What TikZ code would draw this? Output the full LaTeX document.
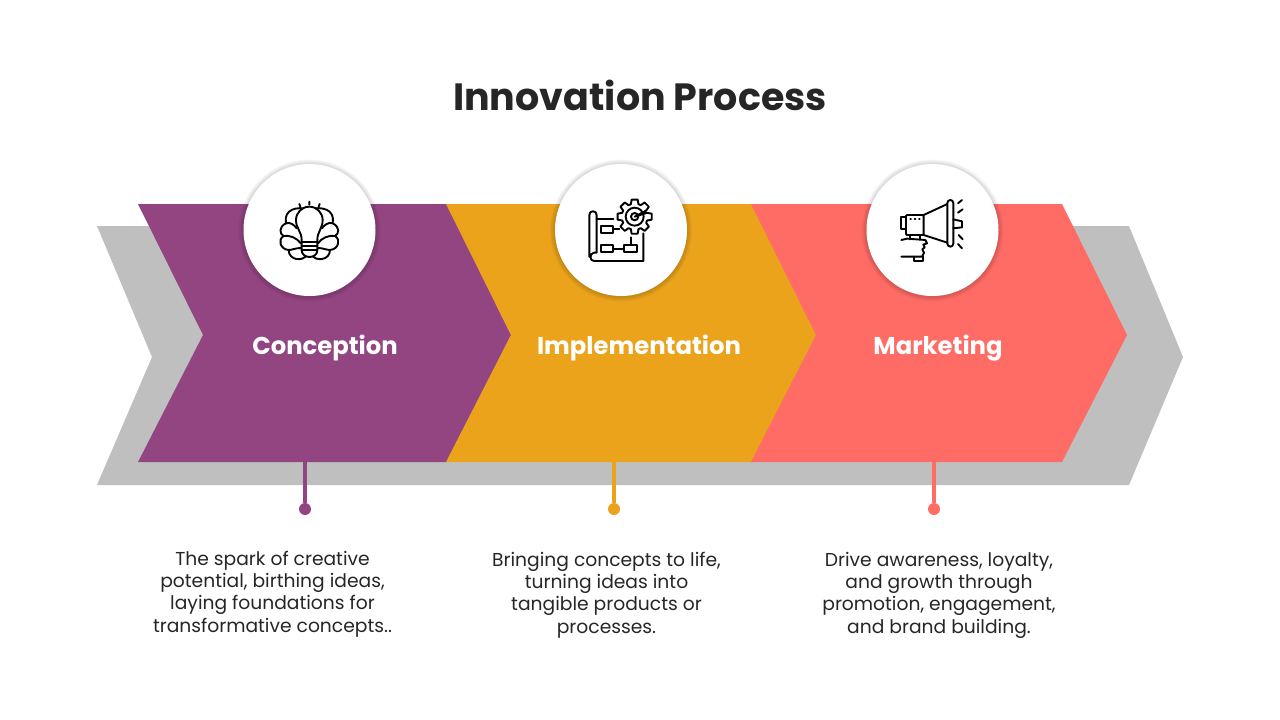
\documentclass[tikz,border=0pt]{standalone}
\usepackage{fontspec}
\setmainfont{Poppins}
\definecolor{conceptioncol}{HTML}{934582}
\definecolor{implementcol}{HTML}{EAA31B}
\definecolor{marketingcol}{HTML}{FF6C66}
\definecolor{bandcol}{HTML}{BFBFBF}
\definecolor{inkcol}{HTML}{262626}

\begin{document}
\begin{tikzpicture}[x=1pt,y=-1pt]
    \tikzstyle{heading}=[text=inkcol,font=\fontsize{38}{42}\selectfont\bfseries]
    \tikzstyle{steplabel}=[text=white,font=\fontsize{24.3}{28}\selectfont\bfseries]
    \tikzstyle{blurb}=[text=inkcol,align=center,font=\fontsize{18.7}{22.3}\selectfont]
    \tikzstyle{iconbase}=[circle,fill=white,minimum size=132pt,inner sep=0pt]
    \tikzstyle{halo}=[black,opacity=.03]
    \tikzstyle{stem}=[line width=4pt]
    \tikzstyle{dot}=[circle,minimum size=12pt,inner sep=0pt]
    \tikzstyle{glyph}=[line width=1.9pt,line join=round,line cap=round,black]
    \path[fill=white] (0,0) rectangle (1280,720);

    \fill[bandcol] (97,226) -- (1129,226) -- (1183,357) -- (1129,485) -- (97,485) -- (152,357) -- cycle;
    \fill[conceptioncol] (138,204) -- (447,204) -- (511,335) -- (447,462) -- (138,462) -- (203,335) -- cycle;
    \fill[implementcol] (446,204) -- (752,204) -- (816,335) -- (752,462) -- (446,462) -- (511,335) -- cycle;
    \fill[marketingcol] (751,204) -- (1062,204) -- (1127,335) -- (1062,462) -- (751,462) -- (816,335) -- cycle;

    \foreach \cx in {309.5,621,932.5}
        \foreach \cr in {71,70,69,68,67}
            \fill[halo] (\cx,230.5) circle (\cr);

    \node[heading] (title) at (640,95) {Innovation Process};
    \node[iconbase] (conceptionicon) at (309.5,230) {};
    \node[iconbase] (implementicon) at (621,230) {};
    \node[iconbase] (marketingicon) at (932.5,230) {};
    \node[steplabel] (conception) at (325,348) {Conception};
    \node[steplabel] (implementation) at (639,348) {Implementation};
    \node[steplabel] (marketing) at (938,348) {Marketing};

    \coordinate (conceptionfoot) at (305,462);
    \coordinate (implementfoot) at (614,462);
    \coordinate (marketingfoot) at (934,462);
    \node[dot,fill=conceptioncol] (conceptiondot) at (305,509) {};
    \node[dot,fill=implementcol] (implementdot) at (614,509) {};
    \node[dot,fill=marketingcol] (marketingdot) at (934,509) {};
    \draw[stem,conceptioncol] (conceptionfoot) -- (conceptiondot);
    \draw[stem,implementcol] (implementfoot) -- (implementdot);
    \draw[stem,marketingcol] (marketingfoot) -- (marketingdot);

    \node[blurb] (conceptiontext) at (272.5,594) {The spark of creative\\potential, birthing ideas,\\laying foundations for\\transformative concepts..};
    \node[blurb] (implementtext) at (606.5,595) {Bringing concepts to life,\\turning ideas into\\tangible products or\\processes.};
    \node[blurb] (marketingtext) at (939,595) {Drive awareness, loyalty,\\and growth through\\promotion, engagement,\\and brand building.};

    % bulb
    \begin{scope}[shift={(240,160)},x=.3333pt,y=-.3333pt,glyph]
        \foreach \s in {1,-1} {
            \begin{scope}[shift={(208,0)},xscale=\s]
                \filldraw[fill=white] (0,148) .. controls (-38,138) and (-78,148) .. (-70,190) .. controls (-92,200) and (-90,222) .. (-77,228) .. controls (-95,238) and (-88,268) .. (-62,270) .. controls (-62,302) and (-18,305) .. (-8,285) -- cycle;
                \draw (-70,190) .. controls (-58,185) and (-45,195) .. (-38,205);
                \draw (-77,228) .. controls (-60,224) and (-35,235) .. (-26,250);
                \draw (-62,270) .. controls (-52,270) and (-40,264) .. (-26,264);
            \end{scope}
        }
        \filldraw[fill=white] (185,240) .. controls (185,215) and (168,205) .. (168,180) .. controls (168,158) and (186,140) .. (208,140) .. controls (230,140) and (248,158) .. (248,180) .. controls (248,205) and (232,215) .. (232,240) -- (232,270) .. controls (232,298) and (185,298) .. (185,270) -- cycle;
        \draw (185,245) -- (232,245) (185,258) -- (232,258) (185,270) -- (232,270);
        \draw (208,125) -- (208,134) (178,132) -- (181,140) (239,132) -- (236,140);
    \end{scope}

    % plan and gear
    \begin{scope}[shift={(550,160)},x=.3333pt,y=-.3333pt,glyph]
        \draw (140,178) -- (190,178);
        \draw (280,220) -- (280,303) -- (132,303) .. controls (118,303) and (118,280) .. (132,278) -- (140,278) -- (140,165) .. controls (140,150) and (118,150) .. (118,165) -- (118,290);
        \draw (152,197) rectangle (190,220) (152,255) rectangle (190,277) (222,255) rectangle (260,277);
        \draw (190,208) -- (208,208) (190,266) -- (222,266) (242,255) -- (242,232);
        \filldraw[fill=white] (254,170) \foreach \a in {0,45,...,315} {
            -- ++(0,0) -- ({254+39*cos(\a-17)},{170+39*sin(\a-17)}) -- ({254+52*cos(\a-10)},{170+52*sin(\a-10)}) -- ({254+52*cos(\a+10)},{170+52*sin(\a+10)}) -- ({254+39*cos(\a+17)},{170+39*sin(\a+17)})
        } -- cycle;
        \draw (254,170) circle (27) (254,170) circle (11);
    \end{scope}

    % megaphone
    \begin{scope}[shift={(862,160)},x=.3333pt,y=-.3333pt,glyph]
        \draw (185,165) -- (256,132) (185,225) -- (256,248);
        \draw[rounded corners=3pt] (256,120) rectangle (274,260);
        \draw (274,178) -- (300,184) -- (300,202) -- (274,205);
        \draw[rounded corners=1pt] (132,165) rectangle (185,225);
        \draw (132,172) -- (118,172) -- (118,208) -- (132,208);
        \draw (145,178) -- (147,178) (158,178) -- (160,178) (171,178) -- (173,178);
        \draw (145,225) -- (145,238) (175,225) -- (175,238);
        \draw (288,130) -- (300,120) (288,158) -- (302,148) (290,225) -- (302,238) (288,252) -- (300,265);
        \draw (118,240) -- (135,236) -- (190,240) -- (195,250) -- (184,254) -- (188,262) -- (181,268) -- (186,278) -- (180,290) -- (118,290);
        \draw (155,290) -- (155,302) -- (182,302) -- (182,290);
    \end{scope}
\end{tikzpicture}
\end{document}
